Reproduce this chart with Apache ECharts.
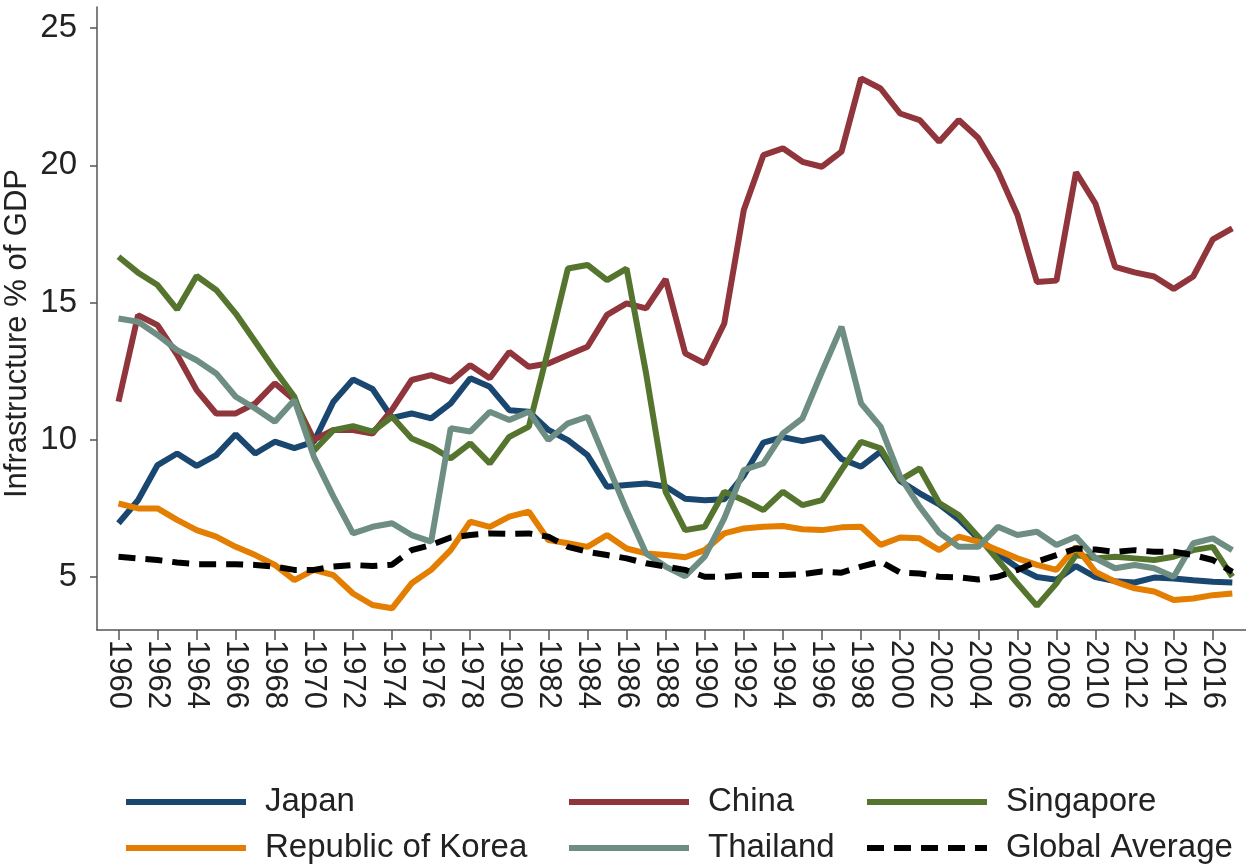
<!DOCTYPE html>
<html>
<head>
<meta charset="utf-8">
<script src="https://cdn.jsdelivr.net/npm/echarts@6/dist/echarts.min.js"></script>
<style>
html, body { margin: 0; padding: 0; background: #fff; }
#chart { width: 1246px; height: 866px; }
</style>
</head>
<body>
<div id="chart"></div>
<script>
// infrastructure investment, % of GDP, 1960-2017
var years = [1960,1961,1962,1963,1964,1965,1966,1967,1968,1969,
             1970,1971,1972,1973,1974,1975,1976,1977,1978,1979,
             1980,1981,1982,1983,1984,1985,1986,1987,1988,1989,
             1990,1991,1992,1993,1994,1995,1996,1997,1998,1999,
             2000,2001,2002,2003,2004,2005,2006,2007,2008,2009,
             2010,2011,2012,2013,2014,2015,2016,2017];
var tickYears = [1960,1962,1964,1966,1968,1970,1972,1974,1976,1978,
                 1980,1982,1984,1986,1988,1990,1992,1994,1996,1998,
                 2000,2002,2004,2006,2008,2010,2012,2014,2016];
var yTicks = [5, 10, 15, 20, 25];

var japan = [6.96,7.8,9.08,9.5,9.05,9.44,10.2,9.5,9.93,9.7,
             9.93,11.39,12.2,11.85,10.8,10.96,10.78,11.33,12.24,11.93,
             11.08,11.02,10.36,9.99,9.44,8.29,8.35,8.41,8.3,7.85,
             7.8,7.83,8.7,9.9,10.1,9.95,10.1,9.3,9.02,9.57,
             8.5,8.05,7.65,7.1,6.4,5.85,5.35,5.0,4.9,5.4,
             5.0,4.85,4.8,4.98,4.95,4.88,4.83,4.8];
var china = [11.39,14.54,14.18,13.1,11.81,10.96,10.96,11.33,12.06,11.45,
             10.0,10.36,10.36,10.23,11.1,12.18,12.36,12.12,12.72,12.24,
             13.2,12.66,12.78,13.09,13.39,14.55,14.97,14.79,15.85,13.15,
             12.78,14.24,18.37,20.37,20.62,20.13,19.95,20.5,23.17,22.8,
             21.89,21.65,20.86,21.65,21.0,19.8,18.2,15.75,15.8,19.75,
             18.6,16.3,16.1,15.95,15.5,15.95,17.3,17.7];
var singapore = [16.67,16.09,15.64,14.75,15.97,15.46,14.6,13.57,12.54,11.57,
                 9.6,10.35,10.5,10.3,10.84,10.05,9.75,9.32,9.87,9.14,
                 10.11,10.48,13.3,16.24,16.37,15.82,16.24,12.42,8.1,6.71,
                 6.83,8.11,7.8,7.44,8.11,7.62,7.8,8.9,9.93,9.69,
                 8.53,8.96,7.7,7.26,6.47,5.62,4.77,3.95,4.77,5.8,
                 5.68,5.74,5.68,5.62,5.74,5.98,6.1,5.01];
var korea = [7.68,7.5,7.5,7.08,6.71,6.47,6.1,5.8,5.44,4.89,
             5.26,5.07,4.4,3.98,3.86,4.77,5.26,5.98,7.02,6.83,
             7.2,7.38,6.35,6.23,6.1,6.53,6.04,5.86,5.8,5.72,
             5.98,6.59,6.77,6.83,6.86,6.74,6.71,6.81,6.83,6.17,
             6.44,6.41,5.98,6.47,6.29,5.98,5.68,5.44,5.26,6.1,
             5.19,4.83,4.59,4.47,4.16,4.22,4.34,4.4];
var thailand = [14.42,14.3,13.82,13.27,12.9,12.42,11.57,11.14,10.66,11.45,
                9.38,7.93,6.59,6.83,6.96,6.53,6.29,10.42,10.3,11.02,
                10.72,11.02,9.99,10.6,10.84,9.14,7.44,5.86,5.38,5.03,
                5.74,7.14,8.9,9.14,10.23,10.78,12.48,14.12,11.33,10.48,
                8.66,7.56,6.62,6.1,6.1,6.83,6.53,6.65,6.17,6.47,
                5.68,5.32,5.44,5.32,5.01,6.23,6.41,5.98];
var globalAvg = [5.74,5.68,5.62,5.53,5.47,5.47,5.47,5.44,5.38,5.26,
                 5.26,5.38,5.44,5.4,5.45,5.98,6.17,6.44,6.53,6.59,
                 6.57,6.59,6.47,6.1,5.92,5.8,5.68,5.5,5.38,5.26,
                 5.01,5.01,5.07,5.07,5.07,5.1,5.2,5.16,5.38,5.56,
                 5.16,5.13,5.01,4.99,4.91,5.01,5.26,5.56,5.8,6.04,
                 6.0,5.92,5.98,5.92,5.92,5.8,5.62,5.19];

var font = 'Arial, "Liberation Sans", sans-serif';
var axisColor = '#555';
var textColor = '#222';

function pairs(vals) {
    return years.map(function (y, i) { return [y, vals[i]]; });
}

function line(name, vals, color, dash) {
    return {
        name: name,
        type: 'line',
        data: pairs(vals),
        symbol: 'none',
        lineStyle: { color: color, width: 6, type: dash || 'solid' },
        itemStyle: { color: color }
    };
}

// one legend per column, two rows each
function legendCol(left, names) {
    return {
        orient: 'vertical',
        left: left,
        top: 785,
        height: 84,
        padding: 0,
        itemWidth: 120,
        itemHeight: 14,
        itemGap: 12,
        selectedMode: false,
        lineStyle: { width: 6 },
        itemStyle: { color: 'rgba(0,0,0,0)', opacity: 0, borderWidth: 0 },
        textStyle: { fontSize: 33, color: textColor, fontFamily: font, lineHeight: 34, padding: [0, 0, 0, 14] },
        data: names
    };
}

var chart = echarts.init(document.getElementById('chart'));
var option = {
    animation: false,
    backgroundColor: '#fff',
    grid: { left: 97, right: 0, top: 7, bottom: 236, outerBoundsMode: 'none', containLabel: false },
    xAxis: {
        type: 'value',
        min: 1958.9,
        max: 2017.7,
        axisLine: { lineStyle: { color: axisColor, width: 1.5 } },
        axisTick: { customValues: tickYears, length: 10, lineStyle: { color: axisColor, width: 1.5 } },
        axisLabel: {
            customValues: tickYears, rotate: -90, margin: 10, fontSize: 31,
            color: textColor, fontFamily: font,
            formatter: function (v) { return String(v); }
        },
        splitLine: { show: false }
    },
    yAxis: {
        type: 'value',
        min: 3.07,
        max: 25.77,
        name: 'Infrastructure % of GDP',
        nameLocation: 'middle',
        nameGap: 64,
        nameMoveOverlap: false,
        nameTextStyle: { fontSize: 31, color: textColor, fontFamily: font, padding: [0, 30, 0, 0] },
        axisLine: { show: true, lineStyle: { color: axisColor, width: 1.5 } },
        axisTick: { show: true, customValues: yTicks, length: 7, lineStyle: { color: axisColor, width: 1.5 } },
        axisLabel: { customValues: yTicks, margin: 20, fontSize: 33, color: textColor, fontFamily: font },
        splitLine: { show: false }
    },
    legend: [
        legendCol(123, ['Japan', 'Republic of Korea']),
        legendCol(566, ['China', 'Thailand']),
        legendCol(864, ['Singapore', 'Global Average'])
    ],
    series: [
        line('Japan', japan, '#1a476f'),
        line('China', china, '#90353b'),
        line('Singapore', singapore, '#55752f'),
        line('Republic of Korea', korea, '#e37e00'),
        line('Thailand', thailand, '#6e8e84'),
        line('Global Average', globalAvg, '#000000', [17, 10])
    ]
};
chart.setOption(option);
</script>
</body>
</html>
